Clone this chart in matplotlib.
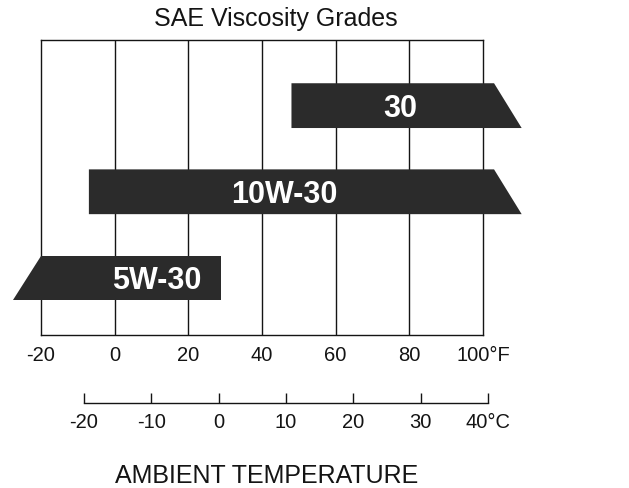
import matplotlib
matplotlib.use("Agg")
import matplotlib.pyplot as plt
from matplotlib.patches import Polygon

plt.rcParams['font.family'] = ['Liberation Sans', 'DejaVu Sans']

# SAE grades, usable ambient range in deg F (open side continues past the scale)
grades = ['5W-30', '10W-30', '30']
low_f = [-20, -7, 48]
high_f = [29, 103, 103]
open_side = ['low', 'high', 'high']

f_ticks = [-20, 0, 20, 40, 60, 80, 100]
f_labels = ['-20', '0', '20', '40', '60', '80', '100°F']
c_ticks = [-20, -10, 0, 10, 20, 30, 40]
c_labels = ['-20', '-10', '0', '10', '20', '30', '40°C']

ink = '#141414'
bar_col = '#2b2b2b'
slant = 7.5
bar_h = 0.52

fig = plt.figure(figsize=(6.29, 4.88), dpi=100)
ax = fig.add_axes([41/629, 153/488, 442/629, 295/488])
ax.set_xlim(-20, 100)
ax.set_ylim(-0.663, 2.762)

for s in ax.spines.values():
    s.set_color(ink)
    s.set_linewidth(1.0)
for x in f_ticks[1:-1]:
    ax.axvline(x, color=ink, lw=1.0, zorder=1)

ax.set_xticks(f_ticks)
ax.set_xticklabels(f_labels)
ax.tick_params(axis='x', length=0, pad=8, labelsize=14.5, labelcolor=ink)
ax.set_yticks([])

# bars: rectangles with a slanted end on the open side
for i, g in enumerate(grades):
    lo, hi = low_f[i], high_f[i]
    y0, y1 = i - bar_h/2, i + bar_h/2
    if open_side[i] == 'high':
        pts = [(lo, y0), (hi + slant, y0), (hi, y1), (lo, y1)]
    else:
        pts = [(lo - slant, y0), (hi, y0), (hi, y1), (lo, y1)]
    ax.add_patch(Polygon(pts, closed=True, facecolor=bar_col, edgecolor='none',
                         zorder=4, clip_on=False))

label_at = [11.5, 46, 77.5]
for i, g in enumerate(grades):
    ax.text(label_at[i], i - 0.04, g, color='white', fontsize=22, fontweight='bold',
            ha='center', va='center', zorder=5)

# celsius scale, drawn as its own strip below
cax = fig.add_axes([84/629, 85/488, 404/629, 0.01])
cax.set_xlim(-20, 40)
cax.set_ylim(0, 1)
for k in ['top', 'left', 'right']:
    cax.spines[k].set_visible(False)
cax.spines['bottom'].set_color(ink)
cax.spines['bottom'].set_linewidth(1.0)
cax.patch.set_alpha(0)
cax.set_yticks([])
cax.set_xticks(c_ticks)
cax.set_xticklabels(c_labels)
cax.tick_params(axis='x', direction='in', length=7, width=1.0, color=ink,
                pad=7, labelsize=14.5, labelcolor=ink)

fig.text(276/629, 0.947, 'SAE Viscosity Grades', ha='center', va='baseline',
         fontsize=18, color=ink)
fig.text(267/629, 0.011, 'AMBIENT TEMPERATURE', ha='center', va='baseline',
         fontsize=18, color=ink)

fig.savefig('out.png', dpi=100)
